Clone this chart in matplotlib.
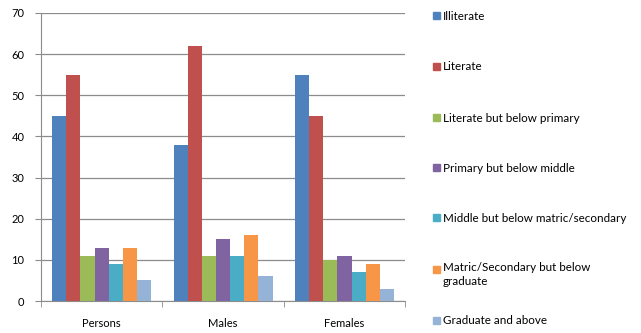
import numpy as np
import matplotlib
matplotlib.use("Agg")
import matplotlib.pyplot as plt
from matplotlib.patches import Rectangle

plt.rcParams['font.family'] = ['Lato', 'DejaVu Sans']

groups = ['Persons', 'Males', 'Females']
series = ['Illiterate', 'Literate', 'Literate but below primary',
          'Primary but below middle', 'Middle but below matric/secondary',
          'Matric/Secondary but below\ngraduate', 'Graduate and above']
values = [
    [45, 38, 55],
    [55, 62, 45],
    [11, 11, 10],
    [13, 15, 11],
    [9, 11, 7],
    [13, 16, 9],
    [5, 6, 3],
]
colors = ['#4F81BD', '#C0504D', '#9BBB59', '#8064A2', '#4BACC6', '#F79646', '#95B3D7']

W, H = 641, 333
fig = plt.figure(figsize=(W / 100, H / 100), dpi=100)
ax = fig.add_axes([0.064, 0.096, 0.568, 0.865])

x = np.arange(len(groups))
w = 0.816 / len(series)
for j, (vals, c) in enumerate(zip(values, colors)):
    ax.bar(x + (j - 3) * w, vals, w, color=c, zorder=3)

ax.set_xlim(-0.5, 2.5)
ax.set_ylim(0, 70)
ax.set_yticks(range(0, 71, 10))
ax.yaxis.grid(True, color='#8c8c8c', linewidth=0.9, zorder=0)
ax.set_xticks(x)
ax.set_xticklabels(groups)
ax.set_xticks([-0.5, 0.5, 1.5, 2.5], minor=True)
ax.tick_params(axis='x', which='major', length=0, pad=12, labelsize=8)
ax.tick_params(axis='x', which='minor', length=4, color='#8c8c8c')
ax.tick_params(axis='y', length=4, color='#8c8c8c', labelsize=8, pad=8)
for s in ['top', 'right']:
    ax.spines[s].set_visible(False)
for s in ['left', 'bottom']:
    ax.spines[s].set_color('#8c8c8c')

# legend, laid out like the Excel one (pixel row of each entry's first line)
rows = [15, 66, 117, 167, 217, 269, 320]
sq = 7
for name, c, yp in zip(series, colors, rows):
    fig.patches.append(Rectangle((433 / W, (H - yp - sq / 2) / H), sq / W, sq / H,
                                 transform=fig.transFigure, color=c))
    if '\n' in name:
        fig.text(443 / W, (H - yp + 7) / H, name, fontsize=8.4, va='top',
                 ha='left', linespacing=1.35)
    else:
        fig.text(443 / W, (H - yp) / H, name, fontsize=8.4, va='center_baseline',
                 ha='left')

fig.savefig('out.png', dpi=100)
